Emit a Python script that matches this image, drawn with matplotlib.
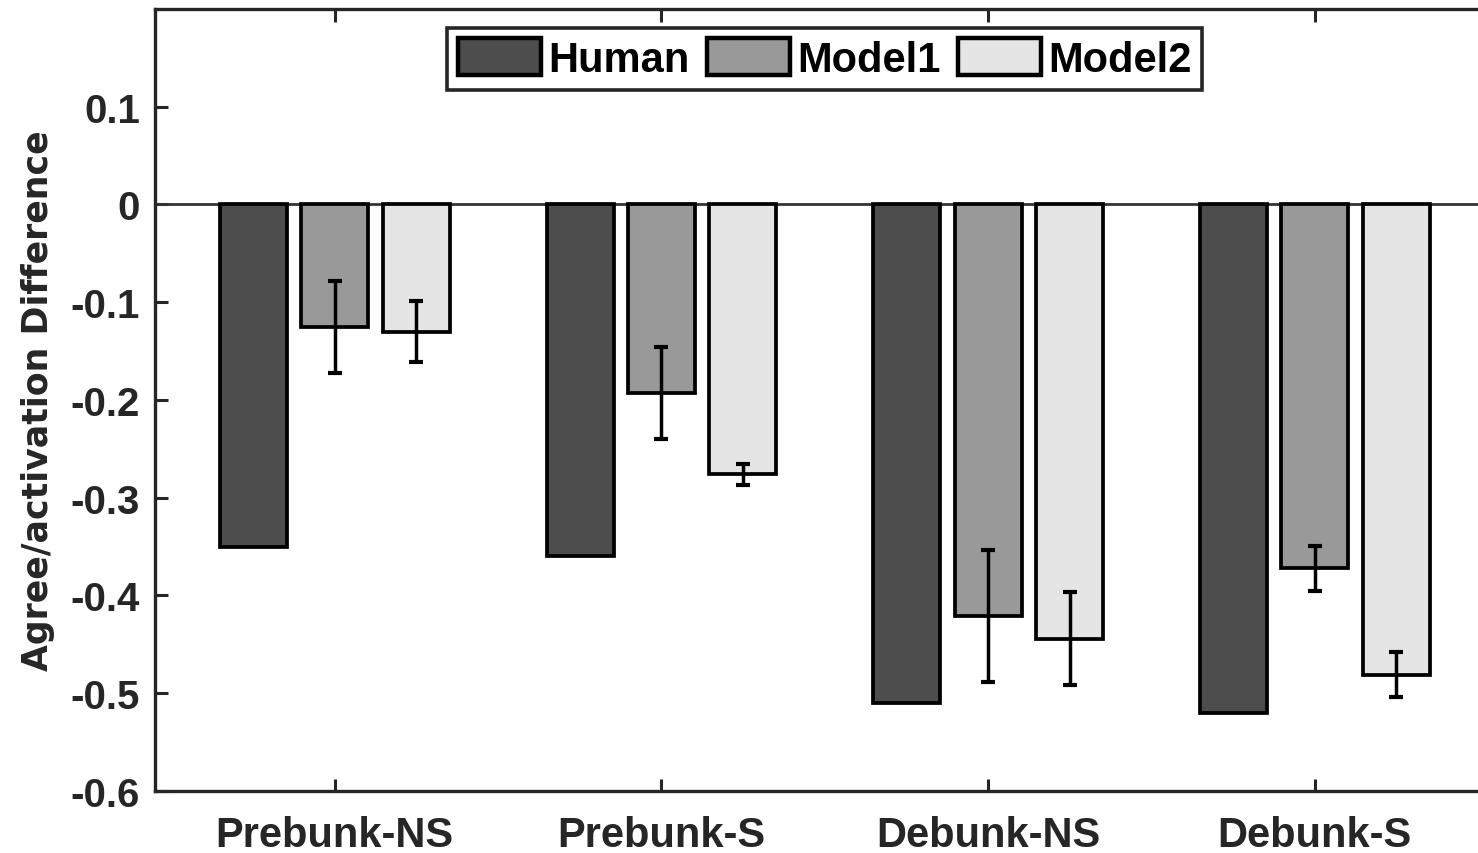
import matplotlib
matplotlib.use("Agg")
import matplotlib.pyplot as plt
import numpy as np

categories = ["Prebunk-NS", "Prebunk-S", "Debunk-NS", "Debunk-S"]
series_names = ["Human", "Model1", "Model2"]
human = [-0.350, -0.360, -0.510, -0.520]
model1 = [-0.125, -0.193, -0.421, -0.372]
model2 = [-0.130, -0.276, -0.444, -0.481]
model1_err = [0.047, 0.047, 0.068, 0.023]
model2_err = [0.031, 0.011, 0.048, 0.023]
yticks = [-0.6, -0.5, -0.4, -0.3, -0.2, -0.1, 0, 0.1]
ytick_labels = ["-0.6", "-0.5", "-0.4", "-0.3", "-0.2", "-0.1", "0", "0.1"]

colors = ["#4d4d4d", "#999999", "#e5e5e5"]

fig = plt.figure(figsize=(14.78, 8.54), dpi=100)
ax = fig.add_axes([0.1049, 0.0726, 0.9063, 0.9157])

x = np.arange(1, len(categories) + 1)
offsets = [-0.249, 0.0, 0.249]
width = 0.205
data = [human, model1, model2]
errs = [None, model1_err, model2_err]
for i in range(3):
    ax.bar(x + offsets[i], data[i], width=width, color=colors[i], edgecolor="black",
           linewidth=2.7, label=series_names[i], zorder=3)
    if errs[i] is not None:
        ax.errorbar(x + offsets[i], data[i], yerr=errs[i], fmt="none", ecolor="black",
                    elinewidth=2.5, capsize=5, capthick=3, zorder=4)

ax.axhline(0, color="#333333", linewidth=2.0, zorder=2)

ax.set_xlim(0.45, 4.55)
ax.set_ylim(-0.6, 0.2)
ax.set_xticks(x)
ax.set_xticklabels(categories, fontsize=30, fontweight="bold", family="Liberation Sans", color="#262626")
ax.set_yticks(yticks)
ax.set_yticklabels(ytick_labels, fontsize=29, fontweight="bold", family="Liberation Sans", color="#262626")
ax.tick_params(axis="x", direction="in", length=9, width=2.2, colors="#262626",
               top=True, pad=17)
ax.tick_params(axis="y", direction="in", length=9, width=2.2, colors="#262626",
               right=True, pad=11)
for sp in ax.spines.values():
    sp.set_linewidth(2.4)
    sp.set_color("#262626")

ax.set_ylabel("Agree/activation Difference", fontsize=25, fontweight="bold",
              family="DejaVu Sans", color="#262626", labelpad=11)

leg = ax.legend(loc="upper center", ncol=3, bbox_to_anchor=(0.5, 1.0),
                prop={"family": "Liberation Sans", "weight": "bold", "size": 30},
                frameon=True, fancybox=False, edgecolor="#262626",
                handlelength=2.0, handleheight=1.0, handletextpad=0.18, columnspacing=0.4,
                borderpad=0.25, borderaxespad=0.45)
leg.get_frame().set_linewidth(2.6)
leg.get_frame().set_alpha(1)
for p in leg.get_patches():
    p.set_linewidth(3.2)

fig.savefig("out.png", dpi=100)
